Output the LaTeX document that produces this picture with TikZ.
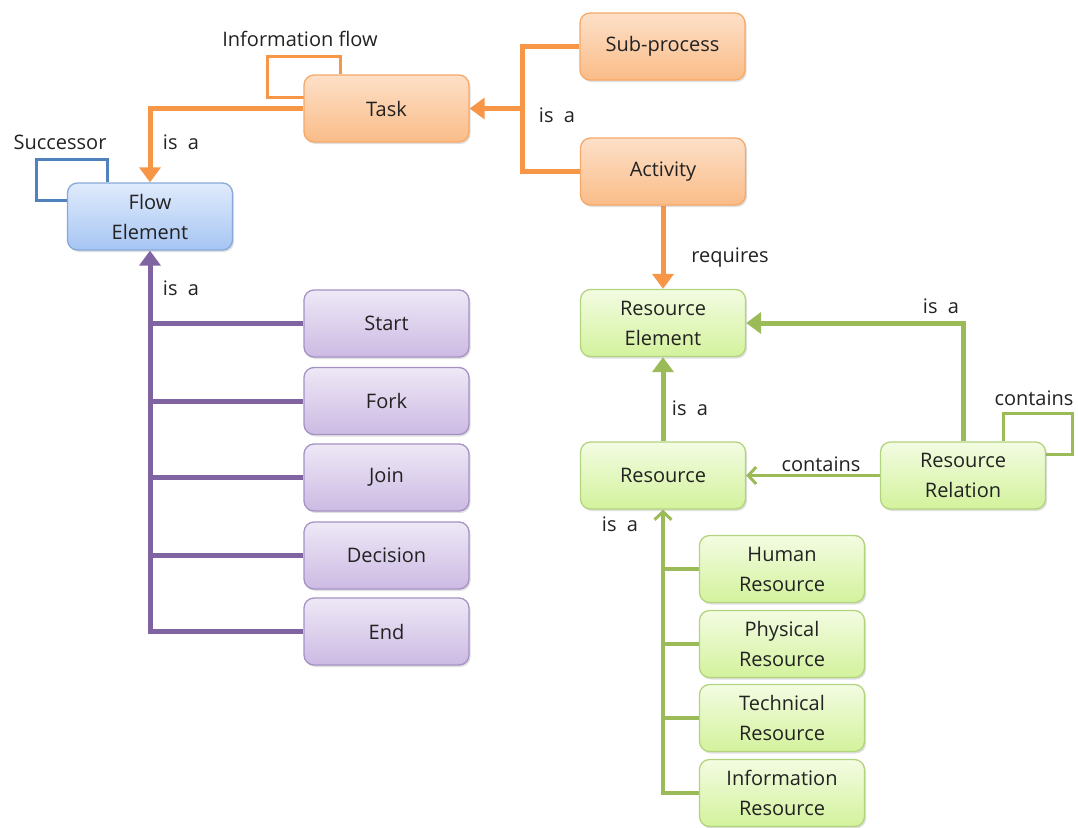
\documentclass[tikz,border=0pt]{standalone}
\usepackage{fontspec}
\setmainfont{Open Sans}
\usetikzlibrary{arrows.meta,shadows,backgrounds,calc}

\definecolor{orline}{HTML}{F79646}
\definecolor{ortop}{HTML}{FDE0C8}
\definecolor{orbot}{HTML}{FABC88}
\definecolor{orbord}{HTML}{F6A867}
\definecolor{blline}{HTML}{4F81BD}
\definecolor{bltop}{HTML}{E0EBFC}
\definecolor{blbot}{HTML}{A6C5F3}
\definecolor{blbord}{HTML}{86A9D8}
\definecolor{puline}{HTML}{8064A2}
\definecolor{putop}{HTML}{EEE8F6}
\definecolor{pubot}{HTML}{CCBAE3}
\definecolor{pubord}{HTML}{A592C4}
\definecolor{grline}{HTML}{9BBB59}
\definecolor{grtop}{HTML}{F3FCE2}
\definecolor{grbot}{HTML}{D3F29C}
\definecolor{grbord}{HTML}{B3D47E}
\definecolor{txt}{HTML}{222222}

\tikzset{
  lbl/.style={font=\fontsize{20}{30}\selectfont, text=txt, inner sep=0pt},
  box/.style={rounded corners=10pt, minimum width=165pt, minimum height=67pt,
    align=center, line width=1.3pt, inner sep=2pt, text=txt,
    font=\fontsize{20}{30}\selectfont,
    drop shadow={opacity=0.25, shadow xshift=1.5pt, shadow yshift=-2pt}},
  orbox/.style={box, draw=orbord, top color=ortop, bottom color=orbot},
  blbox/.style={box, draw=blbord, top color=bltop, bottom color=blbot},
  pubox/.style={box, draw=pubord, top color=putop, bottom color=pubot},
  grbox/.style={box, draw=grbord, top color=grtop, bottom color=grbot},
  fill tip/.style={-{Triangle[length=15pt,width=21pt]}},
  open tip/.style={-{Straight Barb[length=8pt,width=17pt,line width=3pt]}},
  orln/.style={draw=orline, line width=5pt},
  orthin/.style={draw=orline, line width=3pt},
  blthin/.style={draw=blline, line width=3pt},
  puln/.style={draw=puline, line width=5pt},
  grln/.style={draw=grline, line width=5pt},
  grmid/.style={draw=grline, line width=3.5pt},
  grthin/.style={draw=grline, line width=3pt},
}

\begin{document}
\begin{tikzpicture}[x=1pt,y=-1pt]
\useasboundingbox (0,0) rectangle (1078,827);

% process side
\node[orbox] (task) at (386.5,108.5) {Task};
\node[orbox] (sub)  at (662.5,46.5)  {Sub-process};
\node[orbox] (act)  at (663,171.5)   {Activity};
\node[blbox] (flow) at (150,216.5)   {Flow\\Element};

% flow element kinds
\node[pubox] (start) at (386.5,323.5) {Start};
\node[pubox] (fork)  at (386.5,401)   {Fork};
\node[pubox] (join)  at (386.5,477.5) {Join};
\node[pubox] (dec)   at (386.5,555.5) {Decision};
\node[pubox] (endn)  at (386.5,631.5) {End};

% resource side
\node[grbox] (resel) at (663,323)    {Resource\\Element};
\node[grbox] (res)   at (663,475.5)  {Resource};
\node[grbox] (rr)    at (963,475.5)  {Resource\\Relation};
\node[grbox] (hum)   at (782,569)    {Human\\Resource};
\node[grbox] (phy)   at (782,644)    {Physical\\Resource};
\node[grbox] (tec)   at (782,718)    {Technical\\Resource};
\node[grbox] (inf)   at (782,793)    {Information\\Resource};

\coordinate (jn) at (522,108.5);

\begin{pgfonlayer}{background}
  % orange relations
  \draw[orln, fill tip] (task.west) -| (flow.north);
  \draw[orln] (sub.west) -| (jn) |- (act.west);
  \draw[orln, fill tip] (jn) -- (task.east);
  \draw[orln, fill tip] (act.south) -- (resel.north);
  \draw[orthin] ($(task.north)+(-46.5,0)$) -- ++(0,-18) -- ++(-73,0)
        -- ++(0,41) -- ++(40,0);
  % successor loop
  \draw[blthin] ($(flow.north)+(-43,0)$) -- ++(0,-23) -- ++(-71,0)
        -- ++(0,41) -- ++(34,0);
  % flow element kinds
  \draw[puln, fill tip] (endn.west) -| (flow.south);
  \foreach \n in {start,fork,join,dec}
    \draw[puln] (\n.west) -- (\n.west -| flow.south);
  % resource relations
  \draw[grln, fill tip] (res.north) -- (resel.south);
  \draw[grln, fill tip] (rr.north) |- (resel.east);
  \draw[grmid, open tip] (rr.west) -- (res.east);
  \draw[grthin] ($(rr.north)+(40,0)$) -- ++(0,-28) -- ++(69,0)
        -- ++(0,41) -- ++(-30,0);
  \draw[grmid, open tip] (inf.west) -| (res.south);
  \foreach \n in {hum,phy,tec}
    \draw[grmid] (\n.west) -- (\n.west -| res.south);
\end{pgfonlayer}

% relation labels
\node[lbl] (l1) at (300,39)  {Information flow};
\node[lbl] (l2) at (60,142)  {Successor};
\node[lbl] (l3) at (181,142) {is\ \ a};
\node[lbl] (l4) at (557,115) {is\ \ a};
\node[lbl] (l5) at (730,258) {requires};
\node[lbl] (l6) at (181,288) {is\ \ a};
\node[lbl] (l7) at (941,306) {is\ \ a};
\node[lbl] (l8) at (690,408) {is\ \ a};
\node[lbl] (l9) at (821,464) {contains};
\node[lbl] (l10) at (1034,398) {contains};
\node[lbl] (l11) at (620,524) {is\ \ a};
\end{tikzpicture}
\end{document}
